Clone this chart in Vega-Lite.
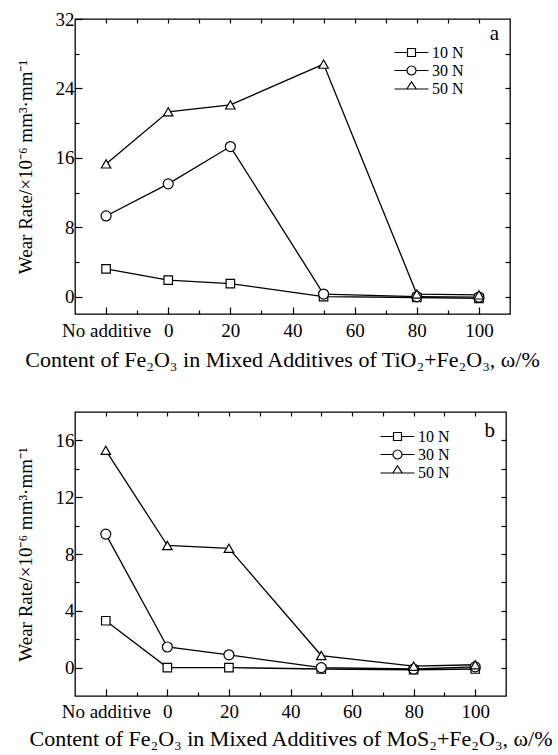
{
  "$schema": "https://vega.github.io/schema/vega-lite/v6.json",
  "background": "white",
  "padding": {"left": 15, "top": 9, "right": 0, "bottom": 0},
  "spacing": 39,
  "datasets": {
    "a": [
      {"load": "10 N", "x": -20, "rate": 3.2},
      {"load": "10 N", "x": 0, "rate": 1.9},
      {"load": "10 N", "x": 20, "rate": 1.5},
      {"load": "10 N", "x": 50, "rate": 0.0},
      {"load": "10 N", "x": 80, "rate": -0.1},
      {"load": "10 N", "x": 100, "rate": -0.2},
      {"load": "30 N", "x": -20, "rate": 9.3},
      {"load": "30 N", "x": 0, "rate": 13.0},
      {"load": "30 N", "x": 20, "rate": 17.3},
      {"load": "30 N", "x": 50, "rate": 0.3},
      {"load": "30 N", "x": 80, "rate": 0.0},
      {"load": "30 N", "x": 100, "rate": -0.05},
      {"load": "50 N", "x": -20, "rate": 15.3},
      {"load": "50 N", "x": 0, "rate": 21.3},
      {"load": "50 N", "x": 20, "rate": 22.1},
      {"load": "50 N", "x": 50, "rate": 26.8},
      {"load": "50 N", "x": 80, "rate": 0.3},
      {"load": "50 N", "x": 100, "rate": 0.2}
    ],
    "b": [
      {"load": "10 N", "x": -20, "rate": 3.3},
      {"load": "10 N", "x": 0, "rate": 0.0},
      {"load": "10 N", "x": 20, "rate": 0.0},
      {"load": "10 N", "x": 50, "rate": -0.1},
      {"load": "10 N", "x": 80, "rate": -0.15},
      {"load": "10 N", "x": 100, "rate": -0.1},
      {"load": "30 N", "x": -20, "rate": 9.4},
      {"load": "30 N", "x": 0, "rate": 1.45},
      {"load": "30 N", "x": 20, "rate": 0.9},
      {"load": "30 N", "x": 50, "rate": 0.0},
      {"load": "30 N", "x": 80, "rate": -0.1},
      {"load": "30 N", "x": 100, "rate": 0.05},
      {"load": "50 N", "x": -20, "rate": 15.3},
      {"load": "50 N", "x": 0, "rate": 8.6},
      {"load": "50 N", "x": 20, "rate": 8.4},
      {"load": "50 N", "x": 50, "rate": 0.85},
      {"load": "50 N", "x": 80, "rate": 0.1},
      {"load": "50 N", "x": 100, "rate": 0.2}
    ]
  },
  "vconcat": [
    {
      "width": 435,
      "height": 295,
      "data": {"name": "a"},
      "title": {"text": "a", "anchor": "end", "orient": "top", "frame": "group", "offset": -34, "dx": -11},
      "resolve": {"axis": {"x": "independent", "y": "independent"}},
      "layer": [
        {
          "mark": {"type": "line", "color": "black", "strokeWidth": 1.3},
          "encoding": {
            "x": {"field": "x", "type": "quantitative", "scale": {"domain": [-30, 110], "nice": false, "zero": false},
              "axis": {"orient": "bottom", "values": [-20, 0, 20, 40, 60, 80, 100], "tickSize": -7, "labelPadding": 14,
                "labelExpr": "datum.value == -20 ? 'No additive' : datum.label",
                "title": "Content of Fe₂O₃ in Mixed Additives of TiO₂+Fe₂O₃, ω/%", "titleFontSize": 22, "titlePadding": 9, "titleX": 207}},
            "y": {"field": "rate", "type": "quantitative", "scale": {"domain": [-2, 32], "nice": false, "zero": false},
              "axis": {"orient": "left", "values": [0, 8, 16, 24, 32], "tickSize": -7, "labelPadding": 8,
                "title": "Wear Rate/×10⁻⁶ mm³·mm⁻¹", "titleFontSize": 19, "titlePadding": 20}},
            "detail": {"field": "load", "type": "nominal"}
          }
        },
        {
          "transform": [{"filter": "datum.load == '10 N'"}],
          "mark": {"type": "point", "shape": "square", "filled": true, "fill": "white", "stroke": "black", "strokeWidth": 1.2, "size": 72, "opacity": 1},
          "encoding": {
            "x": {"field": "x", "type": "quantitative", "axis": {"orient": "bottom", "values": [-10, 10, 30, 50, 70, 90], "tickSize": -4, "labels": false, "title": null}},
            "y": {"field": "rate", "type": "quantitative", "axis": {"orient": "left", "values": [4, 12, 20, 28], "tickSize": -4, "labels": false, "title": null}}
          }
        },
        {
          "transform": [{"filter": "datum.load == '30 N'"}],
          "mark": {"type": "point", "shape": "circle", "filled": true, "fill": "white", "stroke": "black", "strokeWidth": 1.2, "size": 100, "opacity": 1},
          "encoding": {
            "x": {"field": "x", "type": "quantitative", "axis": {"orient": "top", "values": [-20, -10, 0, 10, 20, 30, 40, 50, 60, 70, 80, 90, 100], "tickSize": -4, "labels": false, "title": null}},
            "y": {"field": "rate", "type": "quantitative", "axis": {"orient": "right", "values": [0, 4, 8, 12, 16, 20, 24, 28], "tickSize": -5, "labels": false, "title": null}}
          }
        },
        {
          "transform": [{"filter": "datum.load == '50 N'"}],
          "mark": {"type": "point", "shape": "triangle-up", "filled": true, "fill": "white", "stroke": "black", "strokeWidth": 1.2, "size": 90, "opacity": 1},
          "encoding": {
            "x": {"field": "x", "type": "quantitative", "axis": null},
            "y": {"field": "rate", "type": "quantitative", "axis": null}
          }
        },
        {
          "mark": {"type": "point", "opacity": 0},
          "encoding": {
            "x": {"field": "x", "type": "quantitative", "axis": null},
            "y": {"field": "rate", "type": "quantitative", "axis": null},
            "shape": {"field": "load", "type": "nominal",
              "scale": {"domain": ["10 N", "30 N", "50 N"], "range": [
                "M-2,0H-0.47M0.47,0H2M-0.47,-0.47H0.47V0.47H-0.47Z",
                "M-2,0H-0.53M0.53,0H2M0.53,0C0.53,0.29 0.29,0.53 0,0.53C-0.29,0.53 -0.53,0.29 -0.53,0C-0.53,-0.29 -0.29,-0.53 0,-0.53C0.29,-0.53 0.53,-0.29 0.53,0Z",
                "M-2,0H2M-0.55,0L0,-0.85L0.55,0Z"]},
              "legend": {"orient": "none", "legendX": 327, "legendY": 24, "title": null, "symbolOpacity": 1, "symbolFillColor": "white", "symbolStrokeColor": "black", "symbolStrokeWidth": 1.2, "symbolSize": 289, "labelOffset": 11, "rowPadding": -0.5}}
          }
        }
      ]
    },
    {
      "width": 431,
      "height": 284,
      "data": {"name": "b"},
      "title": {"text": "b", "anchor": "end", "orient": "top", "frame": "group", "offset": -30, "dx": -11},
      "resolve": {"axis": {"x": "independent", "y": "independent"}},
      "layer": [
        {
          "mark": {"type": "line", "color": "black", "strokeWidth": 1.3},
          "encoding": {
            "x": {"field": "x", "type": "quantitative", "scale": {"domain": [-30, 110], "nice": false, "zero": false},
              "axis": {"orient": "bottom", "values": [-20, 0, 20, 40, 60, 80, 100], "tickSize": -7, "labelPadding": 13,
                "labelExpr": "datum.value == -20 ? 'No additive' : datum.label",
                "title": "Content of Fe₂O₃ in Mixed Additives of MoS₂+Fe₂O₃, ω/%", "titleFontSize": 22, "titlePadding": 7}},
            "y": {"field": "rate", "type": "quantitative", "scale": {"domain": [-2, 18], "nice": false, "zero": false},
              "axis": {"orient": "left", "values": [0, 4, 8, 12, 16], "tickSize": -7, "labelPadding": 8,
                "title": "Wear Rate/×10⁻⁶ mm³·mm⁻¹", "titleFontSize": 19, "titlePadding": 20}},
            "detail": {"field": "load", "type": "nominal"}
          }
        },
        {
          "transform": [{"filter": "datum.load == '10 N'"}],
          "mark": {"type": "point", "shape": "square", "filled": true, "fill": "white", "stroke": "black", "strokeWidth": 1.2, "size": 72, "opacity": 1},
          "encoding": {
            "x": {"field": "x", "type": "quantitative", "axis": {"orient": "bottom", "values": [-10, 10, 30, 50, 70, 90], "tickSize": -4, "labels": false, "title": null}},
            "y": {"field": "rate", "type": "quantitative", "axis": {"orient": "left", "values": [2, 6, 10, 14], "tickSize": -4, "labels": false, "title": null}}
          }
        },
        {
          "transform": [{"filter": "datum.load == '30 N'"}],
          "mark": {"type": "point", "shape": "circle", "filled": true, "fill": "white", "stroke": "black", "strokeWidth": 1.2, "size": 100, "opacity": 1},
          "encoding": {
            "x": {"field": "x", "type": "quantitative", "axis": {"orient": "top", "values": [-20, -10, 0, 10, 20, 30, 40, 50, 60, 70, 80, 90, 100], "tickSize": -4, "labels": false, "title": null}},
            "y": {"field": "rate", "type": "quantitative", "axis": {"orient": "right", "values": [0, 2, 4, 6, 8, 10, 12, 14, 16], "tickSize": -5, "labels": false, "title": null}}
          }
        },
        {
          "transform": [{"filter": "datum.load == '50 N'"}],
          "mark": {"type": "point", "shape": "triangle-up", "filled": true, "fill": "white", "stroke": "black", "strokeWidth": 1.2, "size": 90, "opacity": 1},
          "encoding": {
            "x": {"field": "x", "type": "quantitative", "axis": null},
            "y": {"field": "rate", "type": "quantitative", "axis": null}
          }
        },
        {
          "mark": {"type": "point", "opacity": 0},
          "encoding": {
            "x": {"field": "x", "type": "quantitative", "axis": null},
            "y": {"field": "rate", "type": "quantitative", "axis": null},
            "shape": {"field": "load", "type": "nominal",
              "scale": {"domain": ["10 N", "30 N", "50 N"], "range": [
                "M-2,0H-0.47M0.47,0H2M-0.47,-0.47H0.47V0.47H-0.47Z",
                "M-2,0H-0.53M0.53,0H2M0.53,0C0.53,0.29 0.29,0.53 0,0.53C-0.29,0.53 -0.53,0.29 -0.53,0C-0.53,-0.29 -0.29,-0.53 0,-0.53C0.29,-0.53 0.53,-0.29 0.53,0Z",
                "M-2,0H2M-0.55,0L0,-0.85L0.55,0Z"]},
              "legend": {"orient": "none", "legendX": 313, "legendY": 15, "title": null, "symbolOpacity": 1, "symbolFillColor": "white", "symbolStrokeColor": "black", "symbolStrokeWidth": 1.2, "symbolSize": 289, "labelOffset": 11, "rowPadding": -0.5}}
          }
        }
      ]
    }
  ],
  "resolve": {"scale": {"shape": "independent"}, "legend": {"shape": "independent"}},
  "config": {
    "view": {"stroke": "black", "strokeWidth": 1.3},
    "axis": {"domain": false, "grid": false, "labelFont": "Liberation Serif", "titleFont": "Liberation Serif", "labelColor": "black", "titleColor": "black", "tickColor": "black", "tickWidth": 1.2, "titleFontWeight": "normal", "labelFontSize": 19, "labelFlush": false, "labelOverlap": false},
    "legend": {"labelFont": "Liberation Serif", "labelFontSize": 16, "labelColor": "black"},
    "title": {"font": "Liberation Serif", "fontSize": 21, "fontWeight": "normal", "color": "black"}
  }
}
